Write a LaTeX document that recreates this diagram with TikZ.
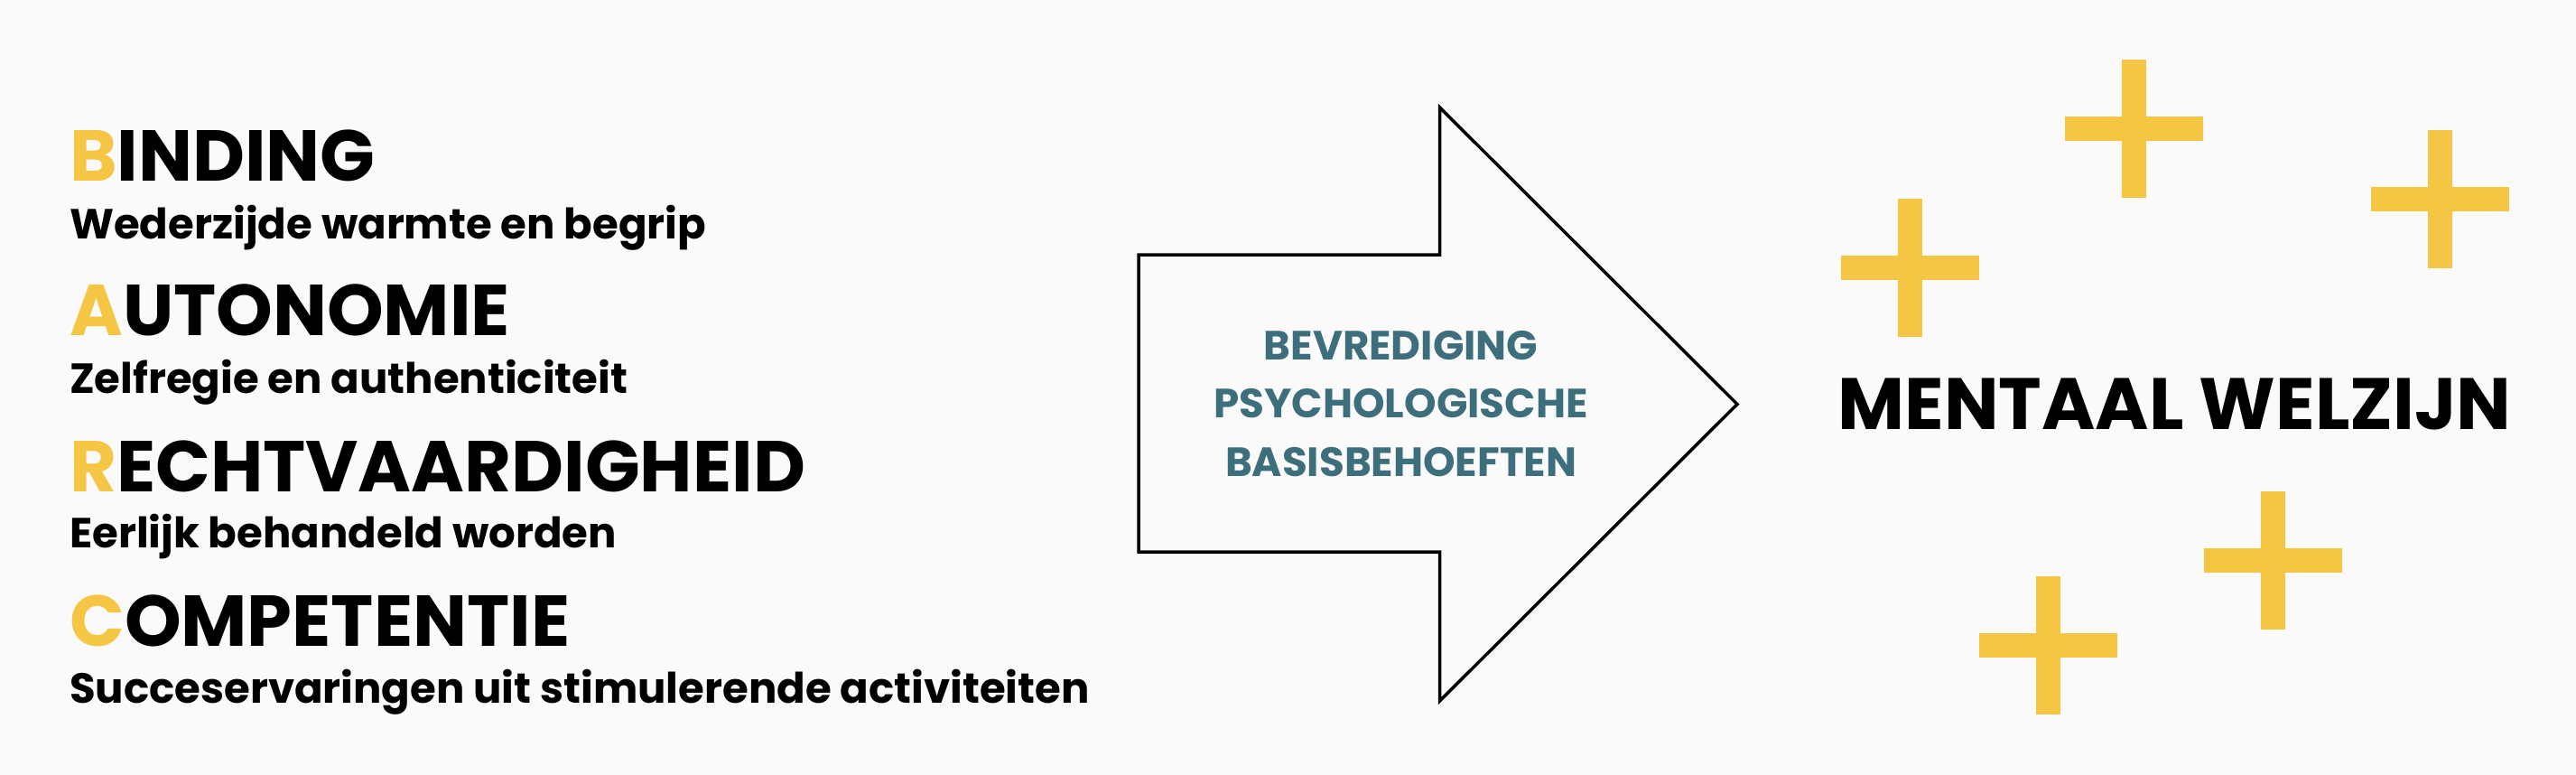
\documentclass[tikz,border=0pt]{standalone}
\usepackage{fontspec}
\setmainfont{Poppins}[BoldFont={* Bold}]
\newlength{\du}
\setlength{\du}{1pt}
\definecolor{bgcolor}{RGB}{250,250,250}
\definecolor{plusyellow}{RGB}{245,198,68}
\definecolor{needteal}{RGB}{61,110,124}
\tikzset{
  letter/.style={anchor=base west, inner sep=0pt, font=\bfseries\fontsize{79.8}{80}\selectfont},
  subline/.style={anchor=base west, inner sep=0pt, font=\bfseries\fontsize{46.6}{47}\selectfont},
  needs/.style={inner sep=0pt, align=center, text=needteal, font=\bfseries\fontsize{45.2}{64.5}\selectfont},
  plus/.style={fill=plusyellow, draw=none}
}
\newcommand{\initial}[1]{\textcolor{plusyellow}{#1}}
\begin{document}
\begin{tikzpicture}
  \pgftransformyscale{-1.000000}
  % background
  \fill[bgcolor] (0\du,0\du) rectangle (2853\du,857\du);
  % left column
  \node[letter] (binding) at (77\du,200\du){\initial{B}INDING};
  \node[subline] (bindingtxt) at (77\du,264\du){Wederzijde warmte en begrip};
  \node[letter] (autonomie) at (77\du,371.7\du){\initial{A}UTONOMIE};
  \node[subline] (autonomietxt) at (77\du,435\du){Zelfregie en authenticiteit};
  \node[letter] (recht) at (77\du,544\du){\initial{R}ECHTVAARDIGHEID};
  \node[subline] (rechttxt) at (77\du,606.7\du){Eerlijk behandeld worden};
  \node[letter] (competentie) at (77\du,715\du){\initial{C}OMPETENTIE};
  \node[subline] (competentietxt) at (77\du,778\du){Succeservaringen uit stimulerende activiteiten};
  % big arrow
  \draw[line width=3.5\du, fill=bgcolor, line join=miter]
    (1261\du,282\du) -- (1594.6\du,282\du) -- (1594.6\du,119\du) -- (1924\du,447.5\du)
    -- (1594.6\du,776\du) -- (1594.6\du,611\du) -- (1261\du,611\du) -- cycle;
  \node[needs] (basis) at (1551.6\du,447\du){BEVREDIGING\\PSYCHOLOGISCHE\\BASISBEHOEFTEN};
  % plus signs
  \foreach \cx/\cy in {2363.5/142.5, 2702/220, 2115/296, 2517/620, 2268.5/714}{
    \fill[plus] (\cx\du-76.5\du,\cy\du-13.5\du) rectangle (\cx\du+76.5\du,\cy\du+13.5\du);
    \fill[plus] (\cx\du-13.5\du,\cy\du-76.5\du) rectangle (\cx\du+13.5\du,\cy\du+76.5\du);
  }
  % right side
  \node[inner sep=0pt, anchor=base, font=\bfseries\fontsize{80.6}{81}\selectfont] (welzijn) at (2408.5\du,475.8\du){MENTAAL WELZIJN};
\end{tikzpicture}
\end{document}
